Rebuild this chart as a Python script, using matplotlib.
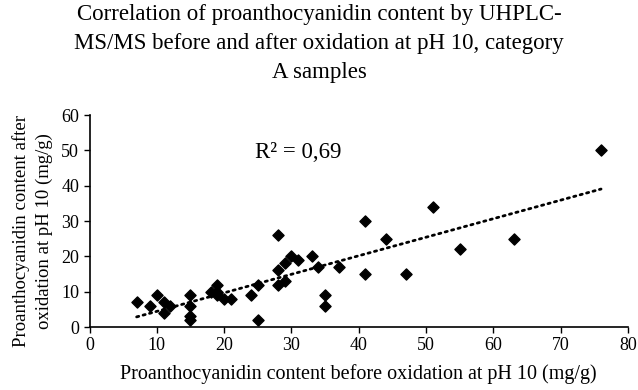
import numpy as np
import matplotlib
matplotlib.use("Agg")
import matplotlib.pyplot as plt

# category A samples: proanthocyanidin content (mg/g) before / after oxidation at pH 10
before = [7, 9, 10, 11, 11, 12, 15, 15, 15, 15, 18, 19, 19, 19, 20, 21, 24, 25, 25,
          28, 28, 28, 29, 29, 30, 31, 33, 34, 35, 35, 37, 41, 41, 44, 47, 51, 55, 63, 76]
after = [7, 6, 9, 7, 4, 6, 9, 6, 3, 2, 10, 12, 10, 9, 8, 8, 9, 12, 2,
         26, 16, 12, 18, 13, 20, 19, 20, 17, 9, 6, 17, 30, 15, 25, 15, 34, 22, 25, 50]
r2_label = "R² = 0,69"

x = np.array(before, dtype=float)
y = np.array(after, dtype=float)
slope, intercept = np.polyfit(x, y, 1)
xs = np.array([x.min(), x.max()])

plt.rcParams["font.family"] = ["Liberation Serif", "DejaVu Serif"]

fig = plt.figure(figsize=(6.38, 3.9), dpi=100)
ax = fig.add_axes([0.1403, 0.1615, 0.8440, 0.5435])

# linear trend line, dotted
ax.plot(xs, slope * xs + intercept, color="black", linestyle=(0, (0.8, 1.6)),
        linewidth=2.0, dash_capstyle="round")
ax.scatter(x, y, marker="D", s=32, color="black", zorder=3)

ax.set_xlim(0, 80)
ax.set_ylim(0, 60)
ax.set_xticks(range(0, 81, 10))
ax.set_yticks(range(0, 61, 10))
ax.tick_params(labelsize=13, direction="out", length=4, width=1, color="black")
for side in ("top", "right"):
    ax.spines[side].set_visible(False)
for side in ("left", "bottom"):
    ax.spines[side].set_linewidth(1.2)

ax.text(24.6, 49.3, r2_label, fontsize=16.5, va="center", ha="left")

ax.set_xlabel("Proanthocyanidin content before oxidation at pH 10 (mg/g)", fontsize=14.5, labelpad=7)
ax.set_ylabel("Proanthocyanidin content after\noxidation at pH 10 (mg/g)", fontsize=13.5,
              linespacing=1.4)
ax.yaxis.set_label_coords(-0.068, 0.453)

fig.suptitle("Correlation of proanthocyanidin content by UHPLC-\n"
             "MS/MS before and after oxidation at pH 10, category\n"
             "A samples", fontsize=16.5, y=0.99, linespacing=1.5)

fig.savefig("out.png", dpi=100)
